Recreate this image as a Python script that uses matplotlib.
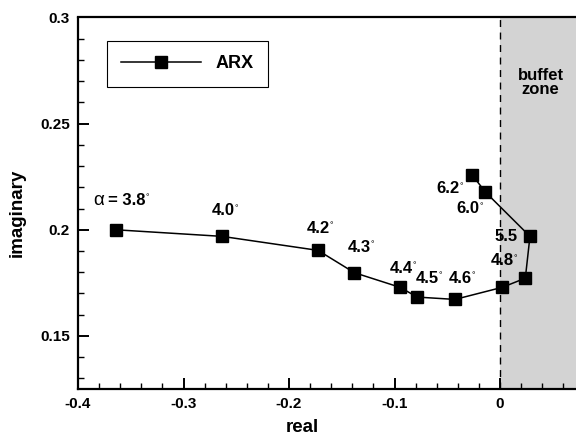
import matplotlib
matplotlib.use("Agg")
import matplotlib.pyplot as plt
from matplotlib.ticker import MultipleLocator, FuncFormatter

plt.rcParams['font.family'] = ['Liberation Sans', 'DejaVu Sans']

# ---- data ----
real = [-0.364, -0.2635, -0.1725, -0.1381, -0.0948, -0.0784, -0.0427,
        0.0022, 0.0240, 0.0284, -0.0139, -0.0265]
imag = [0.2000, 0.1969, 0.1903, 0.1798, 0.1729, 0.1683, 0.1672,
        0.1729, 0.1772, 0.1969, 0.2178, 0.2259]
alpha_labels = ['3.8', '4.0', '4.2', '4.3', '4.4', '4.5', '4.6', '4.8', '5.5', '6.0', '6.2']
label_x = [-0.3858, -0.2733, -0.1832, -0.1447, -0.1043, -0.0799, -0.0490,
           -0.0088, -0.0054, -0.0410, -0.0600]
label_y = [0.2117, 0.2069, 0.1985, 0.1896, 0.1797, 0.1749, 0.1751,
           0.1832, 0.1948, 0.2077, 0.2172]
label_degree = [True, True, True, True, True, True, True, True, False, True, True]
series_name = 'ARX'
zone_text = 'buffet\nzone'
xlabel = 'real'
ylabel = 'imaginary'

W, H = 576, 436
fig = plt.figure(figsize=(W / 100, H / 100), dpi=100)
left_px, right_px, top_px, bot_px = 78, 576, 17.5, 389
xmin, xmax = -0.4, -0.4 + (right_px - left_px) / 1055.0
ax = fig.add_axes([left_px / W, 1 - bot_px / H, (right_px - left_px) / W, (bot_px - top_px) / H])

ax.set_xlim(xmin, xmax)
ax.set_ylim(0.125, 0.3)

ax.axvspan(0, xmax, color='#d3d3d3', zorder=0, lw=0)
ax.axvline(0, color='black', ls=(0, (5, 4)), lw=1.0, zorder=1)

ax.plot(real, imag, color='black', lw=1.1, marker='s', ms=8,
        markerfacecolor='black', markeredgecolor='black', label=series_name, zorder=3)

fs = 12
for i, (lab, lx, ly, deg) in enumerate(zip(alpha_labels, label_x, label_y, label_degree)):
    if i == 0:
        ax.text(lx, ly, 'α', fontsize=13.5, fontweight='normal', ha='left', va='baseline')
        t = ax.annotate('= ' + lab, xy=(lx, ly), xycoords='data', xytext=(15, 0),
                        textcoords='offset pixels', fontsize=fs, fontweight='bold',
                        ha='left', va='baseline')
    else:
        t = ax.text(lx, ly, lab, fontsize=fs, fontweight='bold', ha='left', va='baseline')
    if deg:
        ax.annotate('°', xy=(1, 1), xycoords=t, xytext=(-0.3, -0.5),
                    textcoords='offset points', fontsize=6.5, fontweight='normal',
                    ha='left', va='top')

ax.text(0.0385, 0.2695, zone_text, fontsize=12, fontweight='bold', ha='center', va='center',
        linespacing=0.95)

# axes styling
for s in ['left', 'bottom', 'top']:
    ax.spines[s].set_linewidth(1.6)
ax.spines['right'].set_visible(False)

ax.xaxis.set_major_locator(MultipleLocator(0.1))
ax.xaxis.set_minor_locator(MultipleLocator(0.02))
ax.yaxis.set_major_locator(MultipleLocator(0.05))
ax.yaxis.set_minor_locator(MultipleLocator(0.01))


def fmt(v, pos):
    s = ('%.2f' % v).rstrip('0').rstrip('.')
    if s in ('-0', '0'):
        return '0'
    return s


ax.xaxis.set_major_formatter(FuncFormatter(fmt))
ax.yaxis.set_major_formatter(FuncFormatter(fmt))

ax.tick_params(which='major', direction='in', length=8, width=1.4, labelsize=11, pad=6)
ax.tick_params(which='minor', direction='in', length=4.5, width=1.0)
ax.tick_params(top=False, right=False, which='both')
for lab in ax.get_xticklabels() + ax.get_yticklabels():
    lab.set_fontweight('bold')

ax.set_xlabel(xlabel, fontsize=13.5, fontweight='bold')
ax.xaxis.set_label_coords((302 - left_px) / (right_px - left_px), -(419 - bot_px) / (bot_px - top_px))
ax.xaxis.label.set_va('top')
ax.set_ylabel(ylabel, fontsize=13.5, fontweight='bold')
ax.yaxis.set_label_coords(-(78 - 26) / (right_px - left_px), 0.475)

leg = ax.legend(loc='upper left', bbox_to_anchor=(107 / W, 1 - 41 / H),
                bbox_transform=fig.transFigure, borderaxespad=0,
                fancybox=False, edgecolor='black', framealpha=1,
                prop={'weight': 'bold', 'size': 13}, handlelength=4.4,
                handletextpad=0.8, borderpad=0.8)
leg.get_frame().set_linewidth(0.8)

fig.savefig('out.png', dpi=100)
